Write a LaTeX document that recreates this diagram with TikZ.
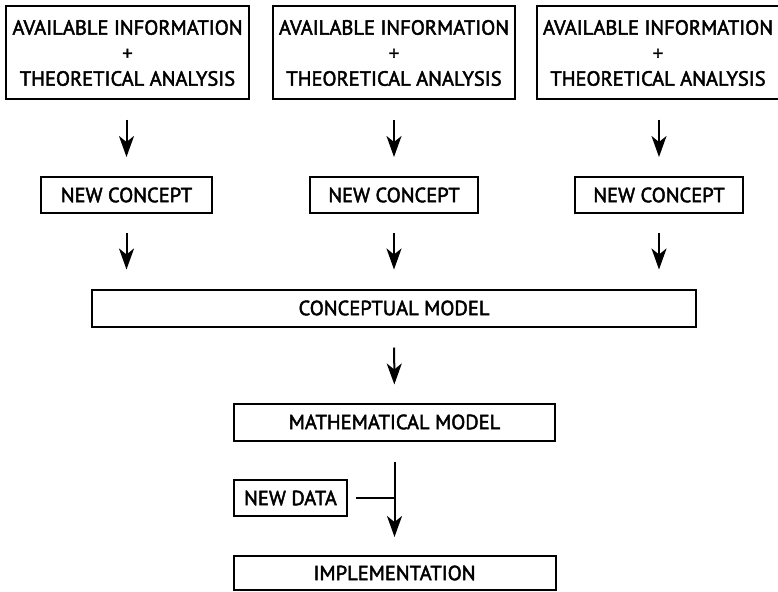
\documentclass[tikz,border=0pt]{standalone}
\usepackage{fontspec}
\newfontfamily\boxfont{PT Sans}[FakeBold=2.2]
\usetikzlibrary{arrows.meta}
\tikzset{
  box/.style={draw, line width=2pt, inner sep=0pt, align=center,
    font=\boxfont\fontsize{20.5}{25.5}\selectfont},
  flow/.style={line width=2pt, -{Stealth[length=21pt,width=15pt,inset=6pt]},
    shorten <=19pt, shorten >=19pt},
}
\begin{document}
\begin{tikzpicture}[x=1pt,y=1pt]
\useasboundingbox (0,0) rectangle (778,-591);
% sources
\node[box, minimum width=243, minimum height=93] (a1) at (127.5,-53)
  {AVAILABLE INFORMATION\\+\\THEORETICAL ANALYSIS};
\node[box, minimum width=242, minimum height=93] (a2) at (394,-53)
  {AVAILABLE INFORMATION\\+\\THEORETICAL ANALYSIS};
\node[box, minimum width=242, minimum height=93] (a3) at (658,-53)
  {AVAILABLE INFORMATION\\+\\THEORETICAL ANALYSIS};
% concepts
\node[box, minimum width=171, minimum height=36] (c1) at (126.5,-195) {NEW CONCEPT};
\node[box, minimum width=168, minimum height=36] (c2) at (394,-195) {NEW CONCEPT};
\node[box, minimum width=168, minimum height=36] (c3) at (659,-195) {NEW CONCEPT};
% models
\node[box, minimum width=604, minimum height=37] (cm) at (394,-308) {CONCEPTUAL MODEL};
\node[box, minimum width=321, minimum height=37] (mm) at (394.5,-422) {MATHEMATICAL MODEL};
\node[box, minimum width=113, minimum height=36] (nd) at (290.5,-498) {NEW DATA};
\node[box, minimum width=322, minimum height=34] (im) at (394.5,-573) {IMPLEMENTATION};
% connectors
\draw[flow] (a1.south -| c1) -- (c1);
\draw[flow] (a2) -- (c2);
\draw[flow] (a3.south -| c3) -- (c3);
\draw[flow] (c1) -- (c1 |- cm.north);
\draw[flow] (c2) -- (cm);
\draw[flow] (c3) -- (c3 |- cm.north);
\draw[flow, shorten <=20pt, shorten >=18pt] (cm) -- (mm);
\coordinate (j) at (394.5,-498);
\draw[line width=2pt, shorten <=8pt] (nd) -- (j);
\draw[flow, shorten <=20pt, shorten >=18pt] (mm) -- (im);
\end{tikzpicture}
\end{document}
